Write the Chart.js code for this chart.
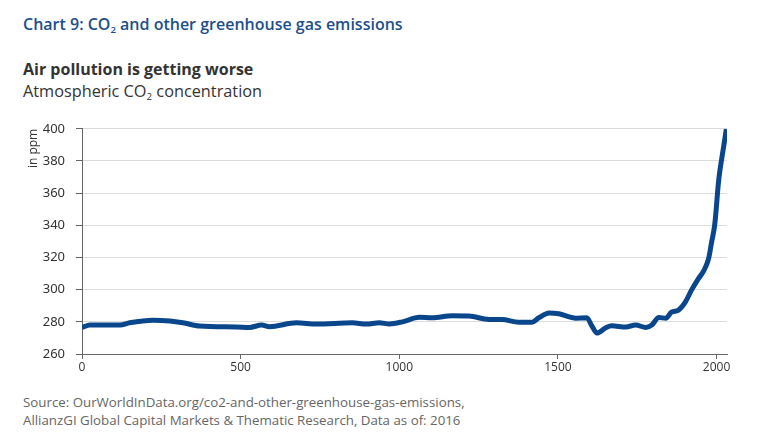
<!DOCTYPE html>
<html>
<head>
<meta charset="utf-8">
<script src="https://cdn.jsdelivr.net/npm/chart.js@4.4.0/dist/chart.umd.min.js"></script>
<style>
  body { margin: 0; background: #fff; width: 760px; height: 443px; overflow: hidden; font-family: "Open Sans", sans-serif; }
  .txt { position: absolute; left: 23px; white-space: nowrap; }
  #title { top: 13px; font-size: 16px; font-weight: 600; color: #1d4f8c; }
  #sub1 { top: 58px; font-size: 16px; font-weight: bold; color: #333; }
  #sub2 { top: 80px; font-size: 16.3px; color: #333; }
  #source { top: 393px; font-size: 13.3px; color: #666; line-height: 18px; }
  sub { font-size: 0.6em; vertical-align: -0.3em; }
  #wrap { position: absolute; left: 0; top: 110px; width: 760px; height: 274px; }
</style>
</head>
<body>
<div id="title" class="txt">Chart 9: CO<sub>2</sub> and other greenhouse gas emissions</div>
<div id="sub1" class="txt">Air pollution is getting worse</div>
<div id="sub2" class="txt">Atmospheric CO<sub>2</sub> concentration</div>
<div id="wrap"><canvas id="co2Chart"></canvas></div>
<div id="source" class="txt">Source: OurWorldInData.org/co2-and-other-greenhouse-gas-emissions,<br>AllianzGI Global Capital Markets &amp; Thematic Research, Data as of: 2016</div>
<script>
// === DATOS ===
const years = [0, 25, 120, 150, 223, 277, 318, 371, 487, 528, 566, 591, 676, 739, 852, 896, 937, 969,
    1010, 1063, 1104, 1167, 1220, 1283, 1324, 1377, 1418, 1440, 1472, 1503, 1557, 1591, 1607, 1623,
    1651, 1670, 1714, 1745, 1777, 1796, 1818, 1840, 1858, 1880, 1902, 1921, 1943, 1959, 1975, 1984,
    1994, 1999, 2003, 2008, 2016, 2024, 2031];
const ppm = [276.5, 278, 278, 279.4, 281, 280.5, 279.4, 277.4, 276.8, 276.5, 278, 277, 279.4, 278.6, 279.4, 278.6, 279.4, 278.7,
    280, 282.8, 282.5, 283.8, 283.6, 281.5, 281.4, 279.8, 279.8, 282.5, 285.5, 285, 282.3, 282.5, 277.5, 273,
    276.3, 277.5, 276.8, 278, 276.5, 278, 282.7, 282.2, 286, 287.3, 292.4, 299.7, 306.9, 311.5, 319.3, 329,
    340, 350, 360, 370, 381, 391, 400];
const xTicks = [0, 500, 1000, 1500, 2000];
const yTicks = [260, 280, 300, 320, 340, 360, 380, 400];

// === GRÁFICA CO2 (LÍNEA) ===
const ctx = document.getElementById('co2Chart').getContext('2d');
new Chart(ctx, {
    type: 'line',
    data: {
        datasets: [{
            label: 'CO2 (ppm)',
            data: years.map((y, i) => ({ x: y, y: ppm[i] })),
            borderColor: '#0a468c',
            borderWidth: 5,
            pointRadius: 0,
            cubicInterpolationMode: 'monotone',
            fill: false
        }]
    },
    options: {
        responsive: true,
        maintainAspectRatio: false,
        animation: false,
        layout: { padding: { top: 18, right: 33, left: 0, bottom: 0 } },
        plugins: { legend: { display: false }, tooltip: { enabled: false } },
        scales: {
            x: {
                type: 'linear',
                min: 0,
                max: 2033,
                afterBuildTicks: s => { s.ticks = xTicks.map(v => ({ value: v })); },
                afterFit: s => { s.height = 30; },
                grid: { drawOnChartArea: false, tickLength: 5, tickColor: '#666' },
                border: { color: '#666', width: 1 },
                ticks: {
                    padding: 1,
                    color: '#333',
                    font: { family: 'Open Sans', size: 12 },
                    maxRotation: 0,
                    callback: value => String(value)
                }
            },
            y: {
                min: 260,
                max: 400,
                afterBuildTicks: s => { s.ticks = yTicks.map(v => ({ value: v })); },
                afterFit: s => { s.width = 82; },
                grid: { color: '#dcdcdc', tickLength: 6, tickColor: '#666' },
                border: { color: '#666', width: 1 },
                ticks: { padding: 11, color: '#333', font: { family: 'Noto Sans', size: 13 } },
                title: {
                    display: true,
                    text: 'in ppm',
                    align: 'end',
                    color: '#333',
                    font: { family: 'Open Sans', size: 12 },
                    padding: { top: 26, bottom: 0 }
                }
            }
        }
    }
});
</script>
</body>
</html>
